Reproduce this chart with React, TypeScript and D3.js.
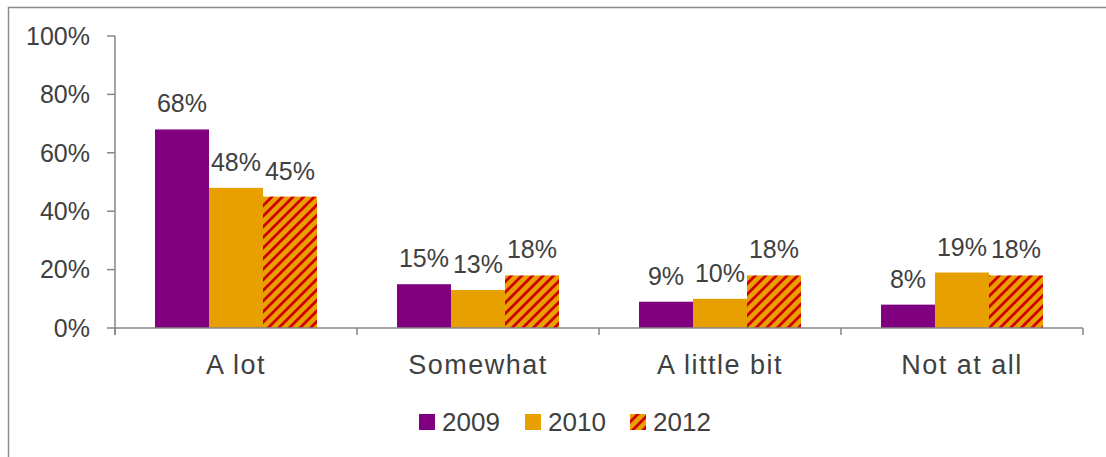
import React from "react";
import * as d3 from "d3";

const categories = ["A lot", "Somewhat", "A little bit", "Not at all"];
const seriesNames = ["2009", "2010", "2012"];
const values2009 = [68, 15, 9, 8];
const values2010 = [48, 13, 10, 19];
const values2012 = [45, 18, 18, 18];
const yTicks = [0, 20, 40, 60, 80, 100];

const W = 1106, H = 457;
const plot = { left: 115, right: 1083, top: 36, bottom: 328 };
const FONT = "'Century Gothic', 'Liberation Sans', Arial, sans-serif";
const TXT = "#404040";
const AX = "#868686";

export default function App() {
  const x = d3.scaleBand<string>().domain(categories).range([plot.left, plot.right]).paddingInner(0).paddingOuter(0);
  const inner = d3.scaleBand<string>().domain(seriesNames).range([40, x.bandwidth() - 40]).padding(0);
  const y = d3.scaleLinear().domain([0, 100]).range([plot.bottom, plot.top]);
  const series = [values2009, values2010, values2012];
  const fills = ["#800080", "#E8A000", "url(#hatch)"];

  return (
    <svg width={W} height={H} style={{ position: "absolute", left: 0, top: 0, display: "block" }}>
      <defs>
        <pattern id="hatch" patternUnits="userSpaceOnUse" width="7.5" height="7.5" patternTransform="rotate(45)">
          <rect width="7.5" height="7.5" fill="#E8A000" />
          <rect width="2.8" height="7.5" fill="#D00000" />
        </pattern>
      </defs>
      <rect x={0} y={0} width={W} height={H} fill="#fff" />
      <rect x={8.5} y={7.5} width={W} height={H} fill="none" stroke="#8c8c8c" strokeWidth={1.5} />
      {/* y axis */}
      <line x1={plot.left} x2={plot.left} y1={plot.top} y2={plot.bottom + 7} stroke={AX} strokeWidth={1.5} />
      {yTicks.map((t) => (
        <g key={t}>
          <line x1={plot.left - 8} x2={plot.left} y1={y(t)} y2={y(t)} stroke={AX} strokeWidth={1.5} />
          <text x={plot.left - 25} y={y(t)} dy="0.35em" textAnchor="end" fontFamily={FONT} fontSize={25} fill={TXT}>
            {t}%
          </text>
        </g>
      ))}
      {/* bars */}
      {categories.map((c, ci) => (
        <g key={c}>
          {series.map((vals, si) => {
            const bx = (x(c) as number) + (inner(seriesNames[si]) as number);
            const bw = inner.bandwidth();
            return (
              <g key={si}>
                <rect x={bx} y={y(vals[ci])} width={bw} height={y(0) - y(vals[ci])} fill={fills[si]} />
                <text x={bx + bw / 2} y={y(vals[ci]) - 17} textAnchor="middle" fontFamily={FONT} fontSize={25} fill={TXT}>
                  {vals[ci]}%
                </text>
              </g>
            );
          })}
          <text x={(x(c) as number) + x.bandwidth() / 2} y={374} textAnchor="middle" fontFamily={FONT} fontSize={27} letterSpacing={1.5} fill={TXT}>
            {c}
          </text>
        </g>
      ))}
      {/* x axis */}
      <line x1={plot.left} x2={plot.right} y1={plot.bottom} y2={plot.bottom} stroke={AX} strokeWidth={1.5} />
      {[...categories.map((c) => x(c) as number), plot.right].map((t, i) => (
        <line key={i} x1={t} x2={t} y1={plot.bottom} y2={plot.bottom + 7} stroke={AX} strokeWidth={1.5} />
      ))}
      {/* legend */}
      {seriesNames.map((s, i) => {
        const lx = [419, 525, 630][i];
        return (
          <g key={s}>
            <rect x={lx} y={414} width={16} height={16} fill={fills[i]} />
            <text x={lx + 23} y={431} fontFamily={FONT} fontSize={26} fill={TXT}>
              {s}
            </text>
          </g>
        );
      })}
    </svg>
  );
}
